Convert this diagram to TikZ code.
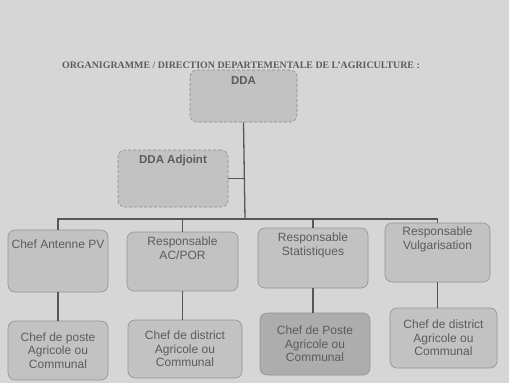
\documentclass[tikz,border=0pt]{standalone}
\usepackage{fontspec}
\setmainfont{Liberation Serif}
\setsansfont{Liberation Sans}
\usetikzlibrary{positioning}
\definecolor{papier}{gray}{0.84}
\definecolor{boite}{gray}{0.76}
\definecolor{boitefonce}{gray}{0.68}
\definecolor{trait}{gray}{0.34}
\definecolor{encre}{gray}{0.36}
\tikzset{
	orgnode/.style = {rectangle, rounded corners=7pt, inner sep=0pt,
		fill=boite, draw=gray!85, line width=0.6pt},
	org_d/.style = {orgnode, densely dashed, draw=gray!90},% boite direction, pointillee
	org_n/.style = {orgnode, align=center, text=encre,
		font=\sffamily\fontsize{12}{13.5}\selectfont},% boite service
	org_t/.style = {anchor=north, align=center, inner sep=0pt, text=encre,
		font=\sffamily\fontsize{12}{13.5}\selectfont},% texte en haut de boite
	lien/.style = {draw=trait, line width=1.3pt}
}
\begin{document}
\begin{tikzpicture}[x=1pt,y=-1pt]
	\fill[papier] (0,0) rectangle (509,383);
	\useasboundingbox (0,0) rectangle (509,383);
	\node (titre) at (241,65) [text=encre, font=\bfseries\fontsize{9.9}{11}\selectfont]
		{ORGANIGRAMME / DIRECTION DEPARTEMENTALE DE L'AGRICULTURE :};
	% direction
	\node (dda) at (243.5,96) [org_d, minimum width=107pt, minimum height=52pt,
		label={[name=tdda, org_t, yshift=-7pt, font=\sffamily\bfseries\fontsize{11.5}{13}\selectfont]north:DDA}] {};
	\node (adj) at (173,178.5) [org_d, minimum width=110pt, minimum height=57pt,
		label={[name=tadj, org_t, yshift=-5pt, font=\sffamily\bfseries\fontsize{11.5}{13}\selectfont]north:DDA Adjoint}] {};
	% services
	\node (c1) at (58,261) [org_n, minimum width=100pt, minimum height=62pt,
		label={[name=tc1, org_t, yshift=-10pt]north:Chef Antenne PV}] {};
	\node (c2) at (182.5,261.5) [org_n, minimum width=111pt, minimum height=59pt,
		label={[name=tc2, org_t, yshift=-5pt]north:Responsable\\AC/POR}] {};
	\node (c3) at (313,258) [org_n, minimum width=110pt, minimum height=60pt,
		label={[name=tc3, org_t, yshift=-5pt]north:Responsable\\Statistiques}] {};
	\node (c4) at (437.5,252.5) [org_n, minimum width=105pt, minimum height=59pt,
		label={[name=tc4, org_t, yshift=-4pt]north:Responsable\\Vulgarisation}] {};
	% postes
	\node (p1) at (58,350.5) [org_n, minimum width=100pt, minimum height=59pt]
		{Chef de poste\\Agricole ou\\Communal};
	\node (p2) at (185,349) [org_n, minimum width=114pt, minimum height=58pt]
		{Chef de district\\Agricole ou\\Communal};
	\node (p3) at (315,344) [org_n, fill=boitefonce, minimum width=110pt, minimum height=62pt]
		{Chef de Poste\\Agricole ou\\Communal};
	\node (p4) at (443.5,338) [org_n, minimum width=107pt, minimum height=60pt]
		{Chef de district\\Agricole ou\\Communal};
	% liens
	\coordinate (bus) at (245,219);
	\draw[lien] (dda.south) -- (bus);
	\draw[lien] (adj.east) -- (adj.east -| dda.south);
	\draw[lien] (bus) -| (c1.north);
	\draw[lien] (bus) -| (c2.north);
	\draw[lien] (bus) -| (c3.north);
	\draw[lien] (bus) -| (c4.north);
	\draw[lien] (c1.south) -- (c1.south |- p1.north);
	\draw[lien] (c2.south) -- (c2.south |- p2.north);
	\draw[lien] (c3.south) -- (c3.south |- p3.north);
	\draw[lien] (c4.south) -- (c4.south |- p4.north);
\end{tikzpicture}
\end{document}
